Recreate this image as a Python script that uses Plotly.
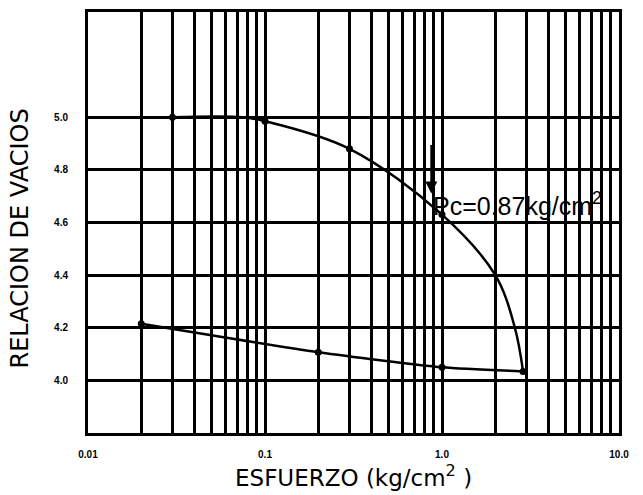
import math
import plotly.graph_objects as go

# ---- data ----
load_x = [0.03, 0.1, 0.3, 1.0, 2.87]
load_y = [5.00, 4.985, 4.88, 4.63, 4.034]
# points along the drawn loading curve
load_curve_x = [0.03, 0.075, 0.1, 0.3, 1.0, 2.0, 2.58, 2.87]
load_curve_y = [5.00, 5.00, 4.985, 4.88, 4.63, 4.40, 4.20, 4.034]

unload_x = [2.87, 1.0, 0.2, 0.02]
unload_y = [4.034, 4.05, 4.107, 4.215]

x_tick_vals = [0.01, 0.1, 1.0, 10.0]
x_tick_text = ["0.01", "0.1", "1.0", "10.0"]
x_minor_vals = [m * d for d in [0.01, 0.1, 1.0] for m in range(2, 10)]
y_tick_vals = [4.0, 4.2, 4.4, 4.6, 4.8, 5.0]
y_tick_text = ["4.0", "4.2", "4.4", "4.6", "4.8", "5.0"]

pc_value = 0.87
pc_arrow_y = [4.90, 4.71]
pc_text = "Pc=0.87kg/cm<sup>2</sup>"
pc_text_y = 4.67
x_title = "ESFUERZO (kg/cm<sup>2</sup> )"
y_title = "RELACION DE VACIOS"

fig = go.Figure()
fig.add_trace(go.Scatter(x=load_curve_x, y=load_curve_y, mode="lines",
                         line=dict(color="black", width=2.5, shape="spline", smoothing=1.0),
                         hoverinfo="skip", showlegend=False))
fig.add_trace(go.Scatter(x=unload_x, y=unload_y, mode="lines",
                         line=dict(color="black", width=2.5, shape="spline", smoothing=0.6),
                         hoverinfo="skip", showlegend=False))
fig.add_trace(go.Scatter(x=load_x + unload_x[1:], y=load_y + unload_y[1:], mode="markers",
                         marker=dict(color="black", size=7),
                         showlegend=False))

lx = math.log10(pc_value)  # annotations on a log axis take log10 positions
fig.add_annotation(x=lx, y=pc_arrow_y[1], ax=lx, ay=pc_arrow_y[0], xref="x", yref="y",
                   axref="x", ayref="y",
                   showarrow=True, arrowhead=2, arrowsize=1.2, arrowwidth=2, arrowcolor="black", text="")
fig.add_annotation(x=lx, y=pc_text_y, xref="x", yref="y", text=pc_text, showarrow=False,
                   xanchor="left", yanchor="middle",
                   font=dict(family="Liberation Sans", size=25, color="black"))

fig.add_annotation(x=0.5, y=-0.062, xref="paper", yref="paper", text=x_title, showarrow=False,
                   xanchor="center", yanchor="top",
                   font=dict(family="DejaVu Sans", size=23, color="black"))
fig.add_annotation(x=-0.128, y=0.462, xref="paper", yref="paper", text=y_title, showarrow=False,
                   textangle=-90, xanchor="center", yanchor="middle",
                   font=dict(family="DejaVu Sans", size=24, color="black"))

fig.update_xaxes(type="log", range=[-2, 1], tickvals=x_tick_vals, ticktext=x_tick_text,
                 showgrid=True, gridcolor="black", gridwidth=2.5,
                 minor=dict(tickvals=x_minor_vals, showgrid=True, gridcolor="black", gridwidth=2.5),
                 showline=True, mirror=True, linecolor="black", linewidth=3,
                 ticks="", ticklabelstandoff=10, zeroline=False,
                 tickfont=dict(family="Liberation Sans", size=10, color="black", weight="bold"))
fig.update_yaxes(range=[3.8, 5.4], tickvals=y_tick_vals, ticktext=y_tick_text,
                 showgrid=True, gridcolor="black", gridwidth=2.5,
                 showline=True, mirror=True, linecolor="black", linewidth=3,
                 ticks="", ticklabelstandoff=15, zeroline=False,
                 tickfont=dict(family="Liberation Sans", size=10, color="black", weight="bold"))

fig.update_layout(width=643, height=495, margin=dict(l=88, r=24, t=9, b=62),
                  paper_bgcolor="white", plot_bgcolor="white", showlegend=False)

fig.write_html("out.html")
